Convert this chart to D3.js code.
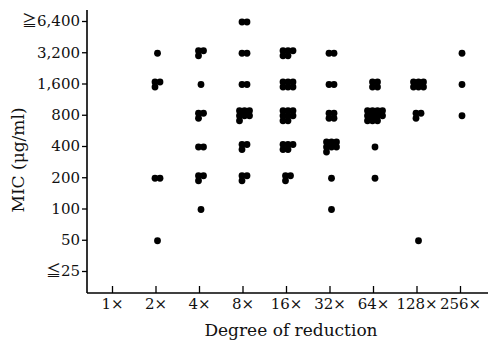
<!DOCTYPE html>
<html>
<head>
<meta charset="utf-8">
<script src="https://cdn.jsdelivr.net/npm/d3@7"></script>
<style>
  body { margin: 0; background: white; }
  text { font-family: "DejaVu Serif", "Liberation Serif", serif; fill: #111; }
</style>
</head>
<body>
<div id="mydiv"></div>
<script>
// categories on the x axis
var reductions = ["1×", "2×", "4×", "8×", "16×", "32×", "64×", "128×", "256×"];

// MIC levels (ug/ml) and their tick labels
var micLevels = [25, 50, 100, 200, 400, 800, 1600, 3200, 6400];
var micLabels = ["≦25", "50", "100", "200", "400", "800", "1,600", "3,200", "≧6,400"];

// number of strains at each MIC level (same order as micLevels)
var n1x   = [0, 0, 0, 0, 0, 0, 0, 0, 0];
var n2x   = [0, 1, 0, 2, 0, 0, 3, 1, 0];
var n4x   = [0, 0, 1, 3, 2, 3, 1, 3, 0];
var n8x   = [0, 0, 0, 3, 3, 7, 2, 2, 2];
var n16x  = [0, 0, 0, 3, 5, 8, 6, 5, 0];
var n32x  = [0, 0, 1, 1, 7, 4, 2, 2, 0];
var n64x  = [0, 0, 0, 1, 1, 11, 4, 0, 0];
var n128x = [0, 1, 0, 0, 0, 3, 6, 0, 0];
var n256x = [0, 0, 0, 0, 0, 1, 1, 1, 0];

var countsByReduction = [n1x, n2x, n4x, n8x, n16x, n32x, n64x, n128x, n256x];

var width = 492, height = 345;

var svg = d3.select("#mydiv").append("svg")
  .attr("width", width)
  .attr("height", height)
  .style("background-color", "white");

// scales
var x = d3.scalePoint()
  .domain(reductions)
  .range([112, 460]);

var y = d3.scaleLog()
  .base(2)
  .domain([25, 6400])
  .range([271, 21]);

var axisX0 = 87, axisY0 = 293;

// one entry per strain, placed in a small cluster around its level
var dots = [];
countsByReduction.forEach(function(counts, ci) {
  counts.forEach(function(n, li) {
    if (n == 0) return;
    var cols = n <= 2 ? n : (n <= 4 ? 2 : (n <= 9 ? 3 : 4));
    var rows = Math.ceil(n / cols);
    for (var k = 0; k < n; k++) {
      var r = Math.floor(k / cols), c = k % cols;
      dots.push({
        reduction: reductions[ci],
        mic: micLevels[li],
        col: c, cols: cols, row: r, rows: rows
      });
    }
  });
});

var dx = 5, dy = 5;
svg.selectAll(".dot")
  .data(dots)
  .enter().append("circle")
  .attr("class", "dot")
  .attr("cx", function(d) { return x(d.reduction) + 2 + (d.col - (d.cols - 1) / 2) * dx; })
  .attr("cy", function(d) { return y(d.mic) + 1 + (d.row - (d.rows - 1) / 2) * dy; })
  .attr("r", 3.4)
  .style("fill", "black");

// y axis
var gy = svg.append("g")
  .attr("transform", "translate(" + axisX0 + ",0)")
  .call(d3.axisLeft(y)
    .tickValues(micLevels)
    .tickFormat(function(d, i) { return micLabels[i]; })
    .tickSize(5)
    .tickPadding(2));
gy.select(".domain").remove();
gy.selectAll("line").attr("stroke", "black").attr("stroke-width", 1.3);
gy.selectAll("text").style("font-size", "15px").attr("font-family", null);

// the ≧ / ≦ signs need a CJK font to come out full size
gy.selectAll("text").each(function() {
  var t = d3.select(this), s = t.text();
  if (s[0] == "≧" || s[0] == "≦") {
    t.text("");
    t.append("tspan")
      .style("font-family", "'Noto Sans CJK JP'")
      .text(s[0]);
    t.append("tspan").text(s.slice(1));
  }
});

// x axis, ticks pointing inward
var gx = svg.append("g")
  .attr("transform", "translate(0," + axisY0 + ")")
  .call(d3.axisBottom(x)
    .tickSize(-7)
    .tickPadding(5));
gx.select(".domain").remove();
gx.selectAll("line").attr("stroke", "black").attr("stroke-width", 1.3);
gx.selectAll("text").style("font-size", "15px").attr("font-family", null);

// axis lines
svg.append("line")
  .attr("x1", axisX0).attr("x2", axisX0)
  .attr("y1", 10).attr("y2", axisY0)
  .attr("stroke", "black").attr("stroke-width", 1.6);
svg.append("line")
  .attr("x1", axisX0).attr("x2", 488)
  .attr("y1", axisY0).attr("y2", axisY0)
  .attr("stroke", "black").attr("stroke-width", 1.6);

// titles
svg.append("text")
  .attr("x", 291).attr("y", 336)
  .attr("text-anchor", "middle")
  .style("font-size", "17px")
  .text("Degree of reduction");

svg.append("text")
  .attr("transform", "translate(24,160) rotate(-90)")
  .attr("text-anchor", "middle")
  .style("font-size", "17px")
  .text("MIC (μg/ml)");
</script>
</body>
</html>
